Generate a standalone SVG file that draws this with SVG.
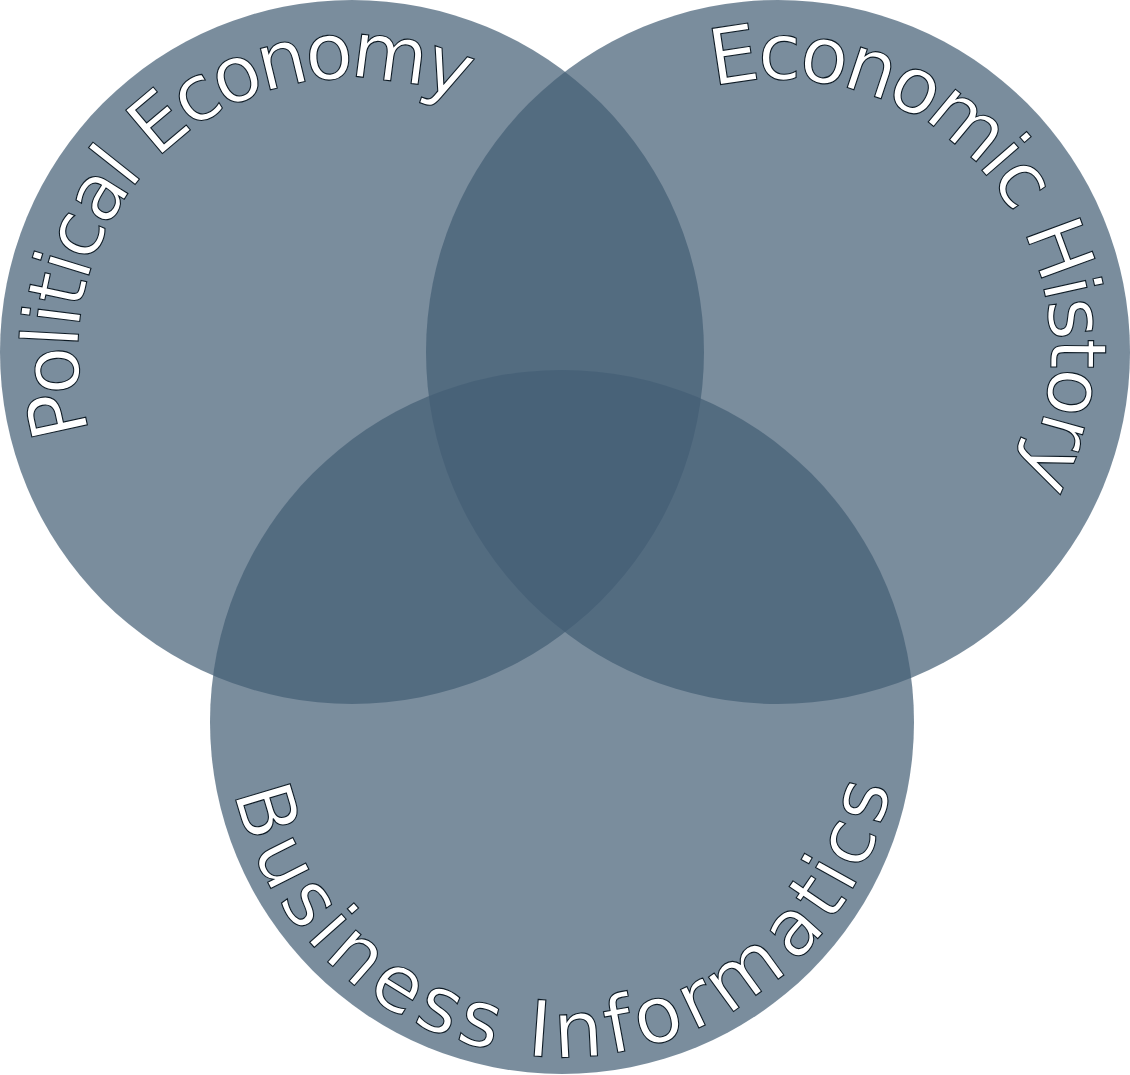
<svg xmlns="http://www.w3.org/2000/svg" xmlns:xlink="http://www.w3.org/1999/xlink" width="1130" height="1075" viewBox="0 0 1130 1075">
  <style>
    .set { fill: #435f75; fill-opacity: 0.71; stroke: none; }
    .label { font-family: "DejaVu Sans", Verdana, sans-serif; font-size: 78px; fill: #ffffff; stroke: #0d1a24; stroke-width: 1.1px; }
  </style>
  <defs>
    <path id="arc-pe" d="M 62.4 437.8 A 302 302 0 1 1 653.4 370.4"/>
    <path id="arc-eh" d="M 709.5 62.0 A 298 298 0 1 1 743.2 648.0"/>
    <path id="arc-bi" d="M 274.9 780.4 A 293 293 0 1 0 811.8 568.9"/>
  </defs>
  <rect x="0" y="0" width="1130" height="1075" fill="#ffffff"/>
  <g id="political-economy">
    <circle class="set" cx="352" cy="352" r="352"/>
  </g>
  <g id="economic-history">
    <circle class="set" cx="778" cy="352" r="352"/>
  </g>
  <g id="business-informatics">
    <circle class="set" cx="562" cy="722" r="352"/>
  </g>
  <g id="labels">
    <text class="label" dy="28"><textPath xlink:href="#arc-pe" href="#arc-pe">Political Economy</textPath></text>
    <text class="label" dy="25"><textPath xlink:href="#arc-eh" href="#arc-eh">Economic History</textPath></text>
    <text class="label" dy="42"><textPath xlink:href="#arc-bi" href="#arc-bi">Business Informatics</textPath></text>
  </g>
  <g id="connectors"/>
</svg>
